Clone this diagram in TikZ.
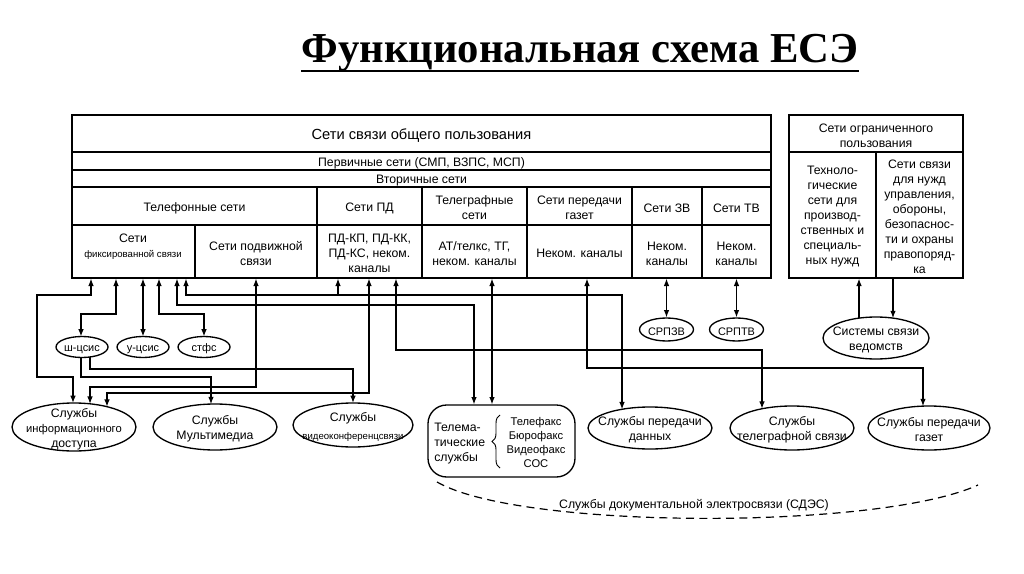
\documentclass[tikz,border=0pt]{standalone}
\usepackage{fontspec}
\setmainfont{Liberation Sans}
\newfontfamily\ttlfont{Liberation Serif}
\usetikzlibrary{shapes.geometric,arrows.meta,calc,fit,decorations.pathreplacing}
\newcommand\fsBig{\fontsize{11}{13}\selectfont}
\newcommand\fsN{\fontsize{9.2}{11.25}\selectfont}
\newcommand\fsE{\fontsize{9.2}{11.25}\selectfont}
\newcommand\fsSm{\fontsize{8.2}{10}\selectfont}
\newcommand\fsS{\fontsize{7.2}{9}\selectfont}
\newcommand\fsL{\fontsize{8.4}{10.3}\selectfont}
\begin{document}
\begin{tikzpicture}[x=0.75pt,y=-0.75pt,
  txt/.style={inner sep=0pt, align=center, font=\fsN, yshift=-1.5pt},
  cell/.style 2 args={draw, line width=1pt, inner sep=0pt, fit={#1}, label={[txt]center:{#2}}},
  ell/.style n args={3}{ellipse, draw, line width=1pt, minimum width=#1*1.5pt, minimum height=#2*1.5pt, inner sep=0pt, label={[txt, font=\fsE]center:{#3}}},
  tip/.tip={Latex[length=5.5pt,width=4.2pt]},
  con/.style={line width=0.9pt, tip-tip},
  one/.style={line width=0.9pt, -tip}
]
\fill[white] (0,0) rectangle (1024,574);
\useasboundingbox (0,0) rectangle (1024,574);

% title
\node[anchor=base, inner sep=0pt, font=\ttlfont\bfseries\fontsize{32}{36}\selectfont] (ttl) at (580,63) {Функциональная схема ЕСЭ};
\draw[line width=2.2pt] ($(ttl.base west)+(0,8)$) -- ($(ttl.base east)+(0,8)$);

% main table
\node[cell={(72,115)(771,152)}{\fsBig Сети связи общего пользования}] (gen) {};
\node[cell={(72,152)(771,170)}{Первичные сети (СМП, ВЗПС, МСП)}] (prim) {};
\node[cell={(72,170)(771,187)}{Вторичные сети}] (sec) {};
\node[cell={(72,187)(317,225)}{Телефонные сети}] (telh) {};
\node[cell={(317,187)(422,225)}{Сети ПД}] (pdh) {};
\node[cell={(422,187)(527,225)}{Телеграфные\\сети}] (tgh) {};
\node[cell={(527,187)(632,225)}{Сети передачи\\газет}] (gzh) {};
\node[cell={(632,187)(702,225)}{Сети ЗВ}] (zvh) {};
\node[cell={(702,187)(771,225)}{Сети ТВ}] (tvh) {};
\node[draw, line width=1pt, inner sep=0pt, fit={(72,225)(195,278)}] (fix) {};
\node[txt] (fixt) at (133,245) {Сети\\{\fsS фиксированной связи}};
\node[cell={(195,225)(317,278)}{Сети подвижной\\связи}] (mob) {};
\node[cell={(317,225)(422,278)}{ПД-КП, ПД-КК,\\ПД-КС, неком.\\каналы}] (pd) {};
\node[cell={(422,225)(527,278)}{АТ/телкс, ТГ,\\неком. каналы}] (tg) {};
\node[cell={(527,225)(632,278)}{Неком. каналы}] (gz) {};
\node[cell={(632,225)(702,278)}{Неком.\\каналы}] (zv) {};
\node[cell={(702,225)(771,278)}{Неком.\\каналы}] (tv) {};

% right table
\node[cell={(789,115)(963,152)}{Сети ограниченного\\пользования}] (lim) {};
\node[cell={(789,152)(876,278)}{Техноло-\\гические\\сети для\\производ-\\ственных и\\специаль-\\ных нужд}] (tech) {};
\node[cell={(876,152)(963,278)}{Сети связи\\для нужд\\управления,\\обороны,\\безопаснос-\\ти и охраны\\правопоряд-\\ка}] (gov) {};

% small ellipses
\node[ell={26}{10.5}{\fsSm\vphantom{ф}ш-цсис}] (shc) at (82,347) {};
\node[ell={26}{10.5}{\fsSm\vphantom{ф}у-цсис}] (uc) at (143,347) {};
\node[ell={26}{10.5}{\fsSm стфс}] (stf) at (204,347) {};
\node[ell={27}{11.5}{\fsSm СРПЗВ}] (srz) at (666.5,329.5) {};
\node[ell={27}{11.5}{\fsSm СРПТВ}] (srt) at (736.5,329.5) {};
\node[ell={53}{21}{Системы связи\\ведомств}] (ved) at (876,338) {};

% service ellipses
\node[ell={62}{24}{Службы\\{\fsL информационного}\\доступа}] (inf) at (74,427) {};
\node[ell={62}{23}{Службы\\Мультимедиа}] (mm) at (215,427) {};
\node[ell={60}{22}{Службы\\[2pt]{\fsS видеоконференцсвязи}}] (vc) at (353,425) {};
\node[draw, line width=1pt, rounded corners=14pt, inner sep=0pt, fit={(428,405)(575,477)}] (tm) {};
\node[inner sep=0pt, anchor=west, align=left, font=\fsE, yshift=-1.5pt] (tmt) at (434,442) {Телема-\\тические\\службы};
\draw[line width=0.7pt, decorate, decoration={brace, amplitude=6pt}] (500,468) -- (500,415);
\node[inner sep=0pt, align=center, font=\fsL, yshift=-1.5pt] (tml) at (536,440.5) {Телефакс\\Бюрофакс\\Видеофакс\\СОС};
\node[ell={62}{21}{Службы передачи\\данных}] (dat) at (650,428) {};
\node[ell={62}{22}{Службы\\телеграфной связи}] (tgs) at (792,428) {};
\node[ell={61}{22}{Службы передачи\\газет}] (gzs) at (929,428) {};

% documentary services
\draw[line width=0.9pt, dash pattern=on 6pt off 4pt] (437,482) .. controls (520,530) and (880,530) .. (978,485);
\node[txt] (sdes) at (694,503) {Службы документальной электросвязи (СДЭС)};

% connectors
\draw[con] (fix.south -| 91,0) -- (91,295) -- (37,295) -- (37,377) -- (73,377) -- ($(inf)+(-1,-24)$);
\draw[con] (fix.south -| 116,0) -- (116,314) -- (81,314) -- ($(shc)+(-1,-10.5)$);
\draw[con] (fix.south -| 143,0) -- ($(uc)+(0,-10.5)$);
\draw[con] (fix.south -| 159,0) -- (159,314) -- (204,314) -- ($(stf)+(0,-10.5)$);
\draw[con] (fix.south -| 177,0) -- (177,305) -- (474,305) -- (tm.north -| 474,0);
\draw[con] (fix.south -| 186,0) -- (186,295) -- (622,295) -- ($(dat)+(-28,-18.7)$);
\coordinate (j1) at (338,295);
\draw[one] (j1) -- (pd.south -| 338,0);
\draw[con] (mob.south -| 256,0) -- (256,387) -- (90,387) -- ($(inf)+(16,-23.2)$);
\draw[one] ($(shc)+(-1,10.5)$) -- (81,377) -- (211,377) -- ($(mm)+(-4,-22.9)$);
\draw[one] ($(shc)+(8,10)$) -- (90,369) -- (353,369) -- ($(vc)+(0,-22)$);
\draw[con] (pd.south -| 369,0) -- (369,393) -- (107,393) -- ($(inf)+(33,-20.3)$);
\draw[con] (pd.south -| 396,0) -- (396,350) -- (762,350) -- ($(tgs)+(-30,-19.3)$);
\draw[con] (tg.south -| 492,0) -- (tm.north -| 492,0);
\draw[con] (gz.south -| 587,0) -- (587,368) -- (923,368) -- ($(gzs)+(-6,-21.9)$);
\draw[con] (zv.south -| 666.5,0) -- (srz.north);
\draw[con] (tv.south -| 736.5,0) -- (srt.north);
\draw[one] ($(ved)+(-17,-19.9)$) -- (tech.south -| 859,0);
\draw[one] (gov.south -| 893,0) -- ($(ved)+(17,-19.9)$);
\end{tikzpicture}
\end{document}
